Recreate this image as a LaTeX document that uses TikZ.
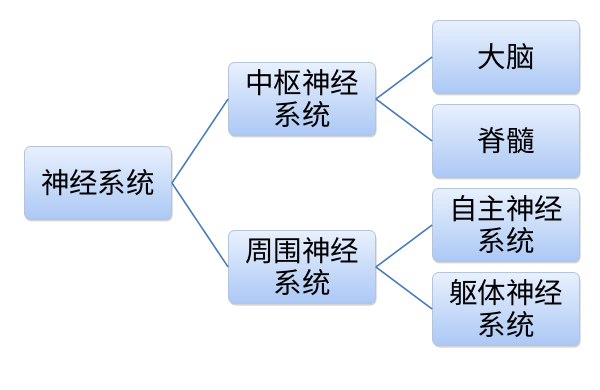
\documentclass[tikz,border=0pt]{standalone}
\usepackage{fontspec}
\newfontfamily\cjk{Noto Sans CJK SC}
\usetikzlibrary{shadows}
\definecolor{boxtop}{HTML}{E8F0FD}
\definecolor{boxbottom}{HTML}{ABC8F5}
\definecolor{boxline}{HTML}{B4C4DC}
\definecolor{linkblue}{HTML}{4A7EBB}

\begin{document}
\begin{tikzpicture}[x=1pt,y=-1pt,
    knoten/.style={rectangle, rounded corners=6pt, draw=boxline, line width=0.8pt,
      top color=boxtop, bottom color=boxbottom,
      drop shadow={shadow xshift=1pt, shadow yshift=-2pt, opacity=0.35},
      minimum width=147pt, minimum height=73pt, inner sep=0pt,
      align=center, font=\cjk\fontsize{28.5}{32}\selectfont},
    verbindung/.style={draw=linkblue, line width=1.5pt}]
  \useasboundingbox (0,0) rectangle (600,390);
  % Wurzel
  \node[knoten] (nerv) at (98,183) {神经系统};
  % zweite Ebene
  \node[knoten] (zentral) at (302,99) {中枢神经\\系统};
  \node[knoten] (peripher) at (302,267) {周围神经\\系统};
  % Blaetter
  \node[knoten] (hirn) at (506,57) {大脑};
  \node[knoten] (mark) at (506,141) {脊髓};
  \node[knoten] (auto) at (506,225) {自主神经\\系统};
  \node[knoten] (soma) at (506,309) {躯体神经\\系统};
  % Verbindungen
  \draw[verbindung] (nerv.east) -- (zentral.west);
  \draw[verbindung] (nerv.east) -- (peripher.west);
  \draw[verbindung] (zentral.east) -- (hirn.west);
  \draw[verbindung] (zentral.east) -- (mark.west);
  \draw[verbindung] (peripher.east) -- (auto.west);
  \draw[verbindung] (peripher.east) -- (soma.west);
\end{tikzpicture}
\end{document}
